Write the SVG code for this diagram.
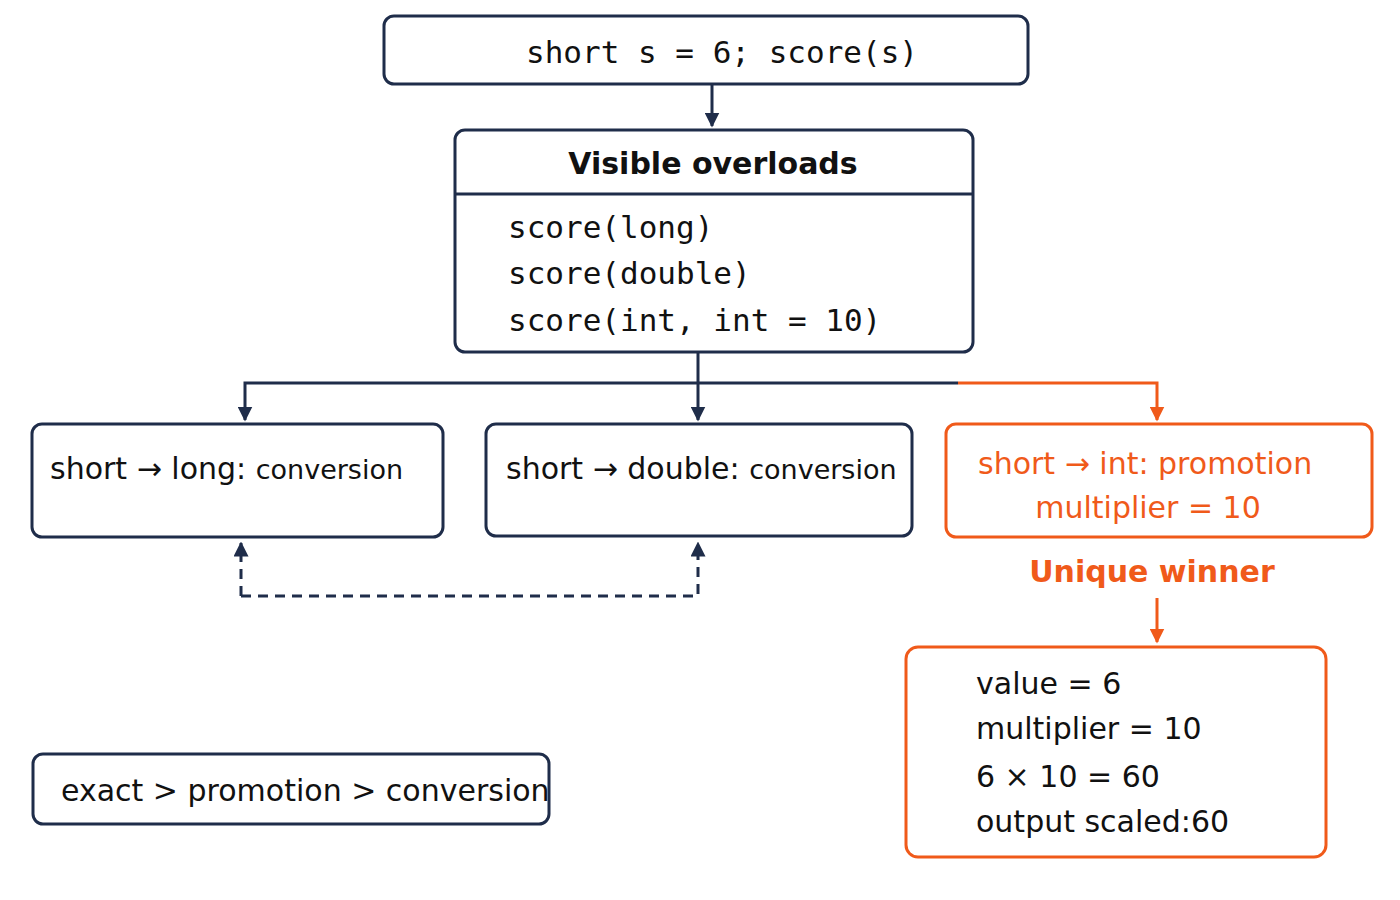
<svg xmlns="http://www.w3.org/2000/svg" width="1400" height="900" viewBox="0 0 1400 900">
<defs>
<style>
.box{fill:#fff;stroke:#1f2d4a;stroke-width:3}
.obox{fill:#fff;stroke:#f05a1a;stroke-width:3}
.t{font-family:"DejaVu Sans","Liberation Sans",sans-serif;fill:#111;font-size:30px}
.m{font-family:"DejaVu Sans Mono","Liberation Mono",monospace;fill:#111;font-size:31px}
.o{fill:#f05a1a}
.ln{fill:none;stroke:#1f2d4a;stroke-width:3}
.oln{fill:none;stroke:#f05a1a;stroke-width:3}
</style>
<marker id="a" viewBox="0 0 10 10" refX="9" refY="5" markerWidth="5" markerHeight="5" orient="auto"><path d="M0,0L10,5L0,10z" fill="#1f2d4a"/></marker>
<marker id="ao" viewBox="0 0 10 10" refX="9" refY="5" markerWidth="5" markerHeight="5" orient="auto"><path d="M0,0L10,5L0,10z" fill="#f05a1a"/></marker>
</defs>
<rect width="1400" height="900" fill="#fff"/>
<g id="connectors">
<path class="ln" d="M712,84V126" marker-end="url(#a)"/>
<path class="ln" d="M698,352V420" marker-end="url(#a)"/>
<path class="ln" d="M958,383H245V420" marker-end="url(#a)"/>
<path class="oln" d="M958,383H1157V420" marker-end="url(#ao)"/>
<path class="ln" d="M241,596V543" stroke-dasharray="10,7" marker-end="url(#a)"/>
<path class="ln" d="M241,596H698V543" stroke-dasharray="10,7" marker-end="url(#a)"/>
<path class="oln" d="M1157,598V642" marker-end="url(#ao)"/>
</g>
<g id="call"><rect class="box" x="384" y="16" width="644" height="68" rx="10"/><text class="m" x="722" y="63" text-anchor="middle" font-size="34">short s = 6; score(s)</text></g>
<g id="overloads"><rect class="box" x="455" y="130" width="518" height="222" rx="10"/><path class="ln" d="M455,194H973"/>
<text class="t" x="713" y="174" text-anchor="middle" font-weight="bold">Visible overloads</text>
<text class="m" x="508" y="238">score(long)</text><text class="m" x="508" y="284">score(double)</text><text class="m" x="508" y="331">score(int, int = 10)</text></g>
<g id="long"><rect class="box" x="32" y="424" width="411" height="113" rx="10"/><text class="t" x="50" y="479" font-size="29">short → long: <tspan font-size="27">conversion</tspan></text></g>
<g id="double"><rect class="box" x="486" y="424" width="426" height="112" rx="10"/><text class="t" x="506" y="479" font-size="29">short → double: <tspan font-size="27">conversion</tspan></text></g>
<g id="int"><rect class="obox" x="946" y="424" width="426" height="113" rx="10"/><text class="t o" x="978" y="474" font-size="31">short → int: promotion</text><text class="t o" x="1148" y="518" text-anchor="middle" font-size="27">multiplier = 10</text></g>
<g id="winner"><text class="t o" x="1152" y="582" text-anchor="middle" font-size="38" font-weight="bold">Unique winner</text></g>
<g id="result"><rect class="obox" x="906" y="647" width="420" height="210" rx="12"/>
<text class="t" x="976" y="694">value = 6</text><text class="t" x="976" y="739">multiplier = 10</text><text class="t" x="976" y="787">6 × 10 = 60</text><text class="t" x="976" y="832">output scaled:60</text></g>
<g id="legend"><rect class="box" x="33" y="754" width="516" height="70" rx="10"/><text class="t" x="61" y="801" font-size="29">exact &gt; promotion &gt; conversion</text></g>
</svg>
